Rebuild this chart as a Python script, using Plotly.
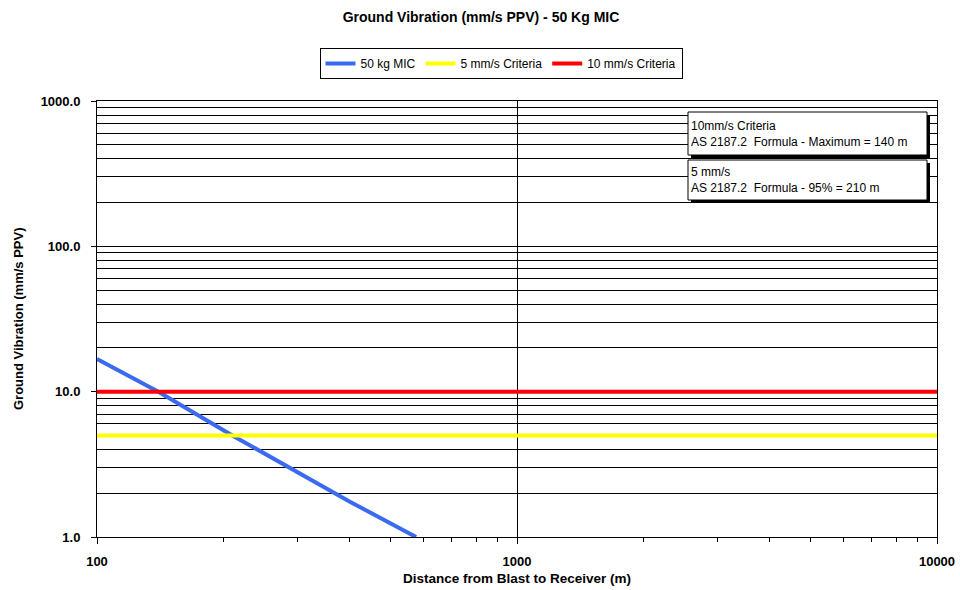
import plotly.graph_objects as go

# Predicted PPV curve for 50 kg MIC
distance_m = [100, 140, 210, 300, 400, 575]
ppv_mm_s = [16.8, 10.0, 5.0, 2.8, 1.75, 1.0]

# Criteria levels (constant over the distance range)
criteria_x = [100, 10000]
criteria_5 = [5, 5]
criteria_10 = [10, 10]

y_ticks = [1, 10, 100, 1000]
y_tick_text = ["1.0", "10.0", "100.0", "1000.0"]
x_ticks = [100, 1000, 10000]
x_tick_text = ["100", "1000", "10000"]
y_minor = [m * d for d in (1, 10, 100) for m in range(2, 10)]
x_minor = [m * d for d in (100, 1000) for m in range(2, 10)]

note_texts = [
    "10mm/s Criteria<br>AS 2187.2  Formula - Maximum = 140 m",
    "5 mm/s<br>AS 2187.2  Formula - 95% = 210 m",
]

FONT = "Arial, Liberation Sans, sans-serif"
W, H = 960, 590
L, R, T, B = 97, 937, 101, 537


def px_x(p):
    return (p - L) / (R - L)


def px_y(p):
    return (B - p) / (B - T)


fig = go.Figure()
fig.add_trace(go.Scatter(x=distance_m, y=ppv_mm_s, mode="lines", name="50 kg MIC",
                         line=dict(color="#3A6AF0", width=4)))
fig.add_trace(go.Scatter(x=criteria_x, y=criteria_5, mode="lines", name="5 mm/s Criteria",
                         line=dict(color="#FFFF00", width=4)))
fig.add_trace(go.Scatter(x=criteria_x, y=criteria_10, mode="lines", name="10 mm/s Criteria",
                         line=dict(color="#FF0000", width=4)))

shapes = []
annotations = []
boxes = [(688, 927, 112, 155), (688, 927, 160, 200)]
for (x0, x1, y0, y1), txt in zip(boxes, note_texts):
    # drop shadow
    shapes.append(dict(type="rect", xref="paper", yref="paper",
                       x0=px_x(x0 + 3), x1=px_x(x1 + 3), y0=px_y(y1 + 3), y1=px_y(y0 + 3),
                       fillcolor="black", line=dict(width=0), layer="above"))
    shapes.append(dict(type="rect", xref="paper", yref="paper",
                       x0=px_x(x0), x1=px_x(x1), y0=px_y(y1), y1=px_y(y0),
                       fillcolor="white", line=dict(color="black", width=1), layer="above"))
    annotations.append(dict(xref="paper", yref="paper", x=px_x(x0 + 1), y=px_y((y0 + y1) / 2),
                            xanchor="left", yanchor="middle", align="left", showarrow=False,
                            text=txt, font=dict(family=FONT, size=12, color="black")))

# vertical axis title
annotations.append(dict(xref="paper", yref="paper", x=px_x(18), y=0.5, xanchor="center",
                        yanchor="middle", textangle=-90, showarrow=False,
                        text="<b>Ground Vibration (mm/s PPV)</b>",
                        font=dict(family=FONT, size=13, color="black")))

fig.update_layout(
    width=W, height=H,
    margin=dict(l=L, r=W - R, t=T, b=H - B, autoexpand=False),
    paper_bgcolor="white", plot_bgcolor="white",
    title=dict(text="<b>Ground Vibration (mm/s PPV) - 50 Kg MIC</b>", x=481 / W, xanchor="center",
               y=1 - 17 / H, yanchor="middle", font=dict(family=FONT, size=14, color="black")),
    legend=dict(orientation="h", x=501 / W, xanchor="center", y=1 - 48 / H, yanchor="top",
                xref="container", yref="container",
                bordercolor="black", borderwidth=1, bgcolor="white",
                font=dict(family=FONT, size=12, color="black"),
                itemwidth=30, tracegroupgap=0),
    showlegend=True,
    shapes=shapes,
    annotations=annotations,
    xaxis=dict(type="log", range=[2, 4], tickmode="array", tickvals=x_ticks, ticktext=x_tick_text,
               ticks="outside", ticklen=6, tickcolor="black", showgrid=True, gridcolor="black",
               gridwidth=1, showline=True, linecolor="black", linewidth=1, mirror=True,
               zeroline=False, automargin=False, ticklabelstandoff=6,
               tickfont=dict(family=FONT, size=13, color="black", weight="bold"),
               minor=dict(tickmode="array", tickvals=x_minor, ticks="outside", ticklen=4,
                          tickcolor="black", showgrid=False),
               title=dict(text="<b>Distance from Blast to Receiver (m)</b>", standoff=5,
                          font=dict(family=FONT, size=13.5, color="black"))),
    yaxis=dict(type="log", range=[0, 3], tickmode="array", tickvals=y_ticks, ticktext=y_tick_text,
               ticks="outside", ticklen=5, tickcolor="black", showgrid=True, gridcolor="black",
               gridwidth=1, showline=True, linecolor="black", linewidth=1, mirror=True,
               zeroline=False, automargin=False, ticklabelstandoff=8,
               tickfont=dict(family=FONT, size=13, color="black", weight="bold"),
               minor=dict(tickmode="array", tickvals=y_minor, ticks="", showgrid=True,
                          gridcolor="black", gridwidth=1)),
)

fig.write_html("out.html")
